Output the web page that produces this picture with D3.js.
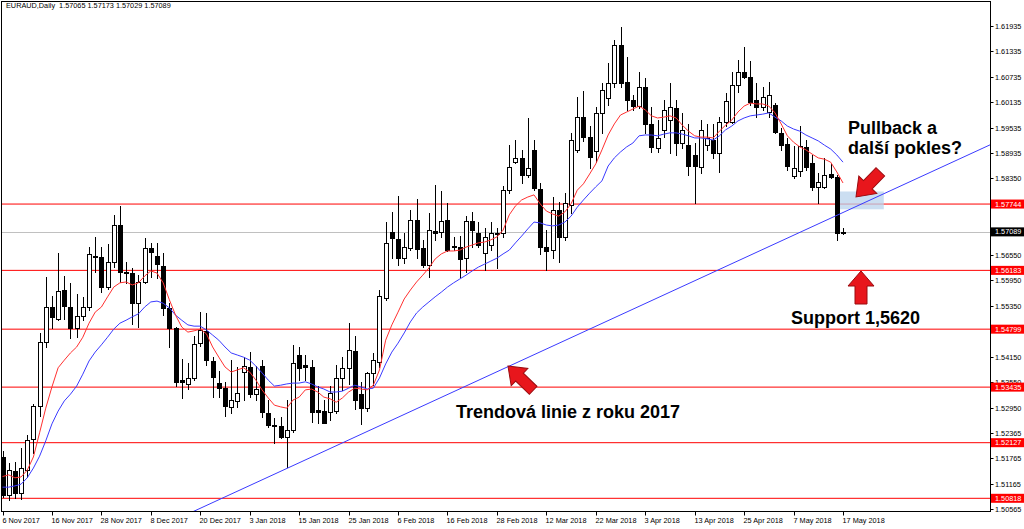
<!DOCTYPE html>
<html><head><meta charset="utf-8">
<script src="https://cdn.jsdelivr.net/npm/d3@7"></script>
<style>html,body{margin:0;padding:0;background:#fff;overflow:hidden}svg{display:block}</style>
</head><body>
<svg id="chart" width="1024" height="529"></svg>
<script>
// ---------- DATA ----------
const symbolTitle = "EURAUD,Daily  1.57065 1.57173 1.57029 1.57089";
const dateLabels = ["6 Nov 2017","16 Nov 2017","28 Nov 2017","8 Dec 2017","20 Dec 2017","3 Jan 2018","15 Jan 2018","25 Jan 2018","6 Feb 2018","16 Feb 2018","28 Feb 2018","12 Mar 2018","22 Mar 2018","3 Apr 2018","13 Apr 2018","25 Apr 2018","7 May 2018","17 May 2018"];
const dateLabelBars = [0,8,16,24,32,40,48,56,64,72,80,88,96,104,112,120,128,136];

const openV = [
1.5180,1.5090,1.5147,1.5094,1.5148,1.5221,1.5299,1.5450,1.5533,1.5504,
1.5572,1.5533,1.5483,1.5512,1.5533,1.5652,1.5649,1.5580,1.5637,1.5725,
1.5615,1.5613,1.5541,1.5592,1.5670,1.5652,1.5629,1.5529,1.5482,1.5360,
1.5352,1.5364,1.5447,1.5476,1.5406,1.5354,1.5341,1.5296,1.5311,1.5380,
1.5392,1.5327,1.5394,1.5282,1.5254,1.5252,1.5227,1.5242,1.5419,1.5396,
1.5392,1.5290,1.5288,1.5286,1.5288,1.5364,1.5388,1.5429,1.5327,1.5294,
1.5376,1.5403,1.5553,1.5708,1.5692,1.5647,1.5672,1.5738,1.5670,1.5631,
1.5711,1.5709,1.5738,1.5675,1.5674,1.5647,1.5735,1.5706,1.5659,1.5678,
1.5704,1.5706,1.5808,1.5874,1.5882,1.5843,1.5902,1.5809,1.5674,1.5666,
1.5760,1.5698,1.5772,1.5902,1.5980,1.5933,1.5900,1.5988,1.6023,1.6059,
1.6149,1.6062,1.6019,1.6005,1.6051,1.5964,1.5906,1.5949,1.5972,1.6000,
1.5918,1.5913,1.5890,1.5862,1.5913,1.5925,1.5894,1.5968,1.5968,1.6055,
1.6085,1.6074,1.6019,1.6004,1.5992,1.6008,1.5941,1.5916,1.5840,1.5852,
1.5909,1.5870,1.5815,1.5815,1.5845,1.5839,1.57065];
const highV = [
1.5192,1.5165,1.5168,1.5200,1.5231,1.5304,1.5472,1.5603,1.5558,1.5659,
1.5605,1.5589,1.5562,1.5556,1.5674,1.5698,1.5674,1.5680,1.5749,1.5770,
1.5639,1.5624,1.5607,1.5694,1.5683,1.5682,1.5659,1.5542,1.5486,1.5409,
1.5400,1.5464,1.5520,1.5519,1.5415,1.5382,1.5356,1.5407,1.5392,1.5414,
1.5427,1.5394,1.5407,1.5313,1.5270,1.5274,1.5313,1.5443,1.5439,1.5419,
1.5407,1.5345,1.5313,1.5345,1.5396,1.5415,1.5494,1.5464,1.5356,1.5378,
1.5423,1.5572,1.5733,1.5756,1.5794,1.5706,1.5760,1.5786,1.5690,1.5753,
1.5819,1.5804,1.5776,1.5698,1.5699,1.5746,1.5756,1.5731,1.5717,1.5733,
1.5718,1.5817,1.5914,1.5925,1.5902,1.5977,1.5925,1.5824,1.5713,1.5792,
1.5780,1.5800,1.5941,1.6027,1.6041,1.5958,1.6003,1.6059,1.6106,1.6161,
1.6192,1.6121,1.6031,1.6086,1.6070,1.6004,1.5972,1.6019,1.6059,1.6019,
1.5988,1.5964,1.5917,1.5972,1.5964,1.5964,1.5980,1.6035,1.6086,1.6113,
1.6145,1.6110,1.6059,1.6051,1.6062,1.6012,1.5953,1.5929,1.5911,1.5958,
1.5925,1.5890,1.5847,1.5882,1.5869,1.5843,1.57173];
const lowV = [
1.5086,1.5078,1.5083,1.5080,1.5132,1.5188,1.5276,1.5439,1.5483,1.5502,
1.5503,1.5459,1.5462,1.5502,1.5525,1.5615,1.5568,1.5575,1.5627,1.5592,
1.5588,1.5492,1.5486,1.5588,1.5603,1.5600,1.5513,1.5439,1.5345,1.5317,
1.5338,1.5360,1.5440,1.5396,1.5321,1.5321,1.5276,1.5282,1.5297,1.5313,
1.5321,1.5313,1.5274,1.5250,1.5213,1.5223,1.5155,1.5238,1.5360,1.5360,
1.5262,1.5260,1.5258,1.5266,1.5282,1.5337,1.5352,1.5291,1.5257,1.5288,
1.5349,1.5392,1.5549,1.5648,1.5631,1.5635,1.5666,1.5647,1.5627,1.5603,
1.5690,1.5696,1.5665,1.5666,1.5603,1.5615,1.5674,1.5674,1.5619,1.5666,
1.5624,1.5698,1.5800,1.5871,1.5824,1.5839,1.5808,1.5658,1.5619,1.5647,
1.5639,1.5690,1.5753,1.5898,1.5922,1.5859,1.5874,1.5941,1.6008,1.6051,
1.6051,1.5996,1.5996,1.6000,1.5941,1.5898,1.5898,1.5933,1.5894,1.5890,
1.5906,1.5843,1.5776,1.5847,1.5902,1.5883,1.5851,1.5957,1.5965,1.6039,
1.6070,1.6008,1.5980,1.5996,1.5980,1.5941,1.5902,1.5855,1.5836,1.5840,
1.5855,1.5808,1.5776,1.5812,1.5836,1.5690,1.57029];
const closeV = [
1.5090,1.5148,1.5095,1.5153,1.5219,1.5299,1.5450,1.5533,1.5508,1.5570,
1.5535,1.5483,1.5512,1.5533,1.5656,1.5649,1.5580,1.5637,1.5725,1.5615,
1.5611,1.5541,1.5592,1.5670,1.5662,1.5633,1.5530,1.5482,1.5356,1.5356,
1.5364,1.5444,1.5478,1.5407,1.5368,1.5341,1.5299,1.5313,1.5329,1.5394,
1.5327,1.5339,1.5286,1.5254,1.5252,1.5227,1.5242,1.5400,1.5388,1.5392,
1.5286,1.5284,1.5260,1.5330,1.5364,1.5388,1.5431,1.5313,1.5294,1.5376,
1.5407,1.5558,1.5683,1.5694,1.5648,1.5673,1.5738,1.5668,1.5631,1.5713,
1.5706,1.5735,1.5666,1.5673,1.5644,1.5735,1.5713,1.5678,1.5698,1.5706,
1.5707,1.5808,1.5862,1.5882,1.5843,1.5859,1.5812,1.5673,1.5665,1.5760,
1.5696,1.5776,1.5924,1.5980,1.5933,1.5886,1.5989,1.6043,1.6059,1.6149,
1.6060,1.6019,1.6005,1.6051,1.5964,1.5909,1.5929,1.5996,1.6002,1.5918,
1.5949,1.5864,1.5864,1.5949,1.5930,1.5894,1.5968,1.6018,1.6055,1.6086,
1.6074,1.6015,1.6004,1.6027,1.6031,1.5945,1.5913,1.5864,1.5859,1.5911,
1.5862,1.5814,1.5827,1.5843,1.5839,1.5706,1.57089];

// fast (red) and slow (blue) moving averages
const maFast = [
1.5133,1.5137,1.5130,1.5132,1.5148,1.5179,1.5236,1.5294,1.5344,1.5389,
1.5407,1.5424,1.5438,1.5461,1.5494,1.5520,1.5532,1.5556,1.5579,1.5589,
1.5591,1.5584,1.5589,1.5605,1.5617,1.5612,1.5589,1.5549,1.5513,1.5485,
1.5473,1.5476,1.5480,1.5469,1.5438,1.5414,1.5391,1.5379,1.5384,1.5389,
1.5379,1.5360,1.5337,1.5318,1.5301,1.5297,1.5294,1.5313,1.5320,1.5337,
1.5339,1.5332,1.5320,1.5316,1.5308,1.5318,1.5332,1.5341,1.5339,1.5337,
1.5348,1.5384,1.5454,1.5490,1.5520,1.5551,1.5572,1.5591,1.5607,1.5624,
1.5645,1.5657,1.5664,1.5664,1.5666,1.5673,1.5678,1.5683,1.5685,1.5690,
1.5697,1.5713,1.5749,1.5770,1.5784,1.5791,1.5796,1.5775,1.5758,1.5751,
1.5746,1.5756,1.5775,1.5807,1.5822,1.5845,1.5869,1.5902,1.5937,1.5963,
1.5984,1.5991,1.5998,1.6005,1.5996,1.5982,1.5977,1.5979,1.5982,1.5977,
1.5960,1.5946,1.5935,1.5932,1.5932,1.5930,1.5946,1.5960,1.5972,1.5991,
1.6005,1.6012,1.6010,1.6010,1.6005,1.5989,1.5963,1.5935,1.5920,1.5909,
1.5902,1.5892,1.5883,1.5880,1.5873,1.5850,1.5824];
const maSlow = [
1.5108,1.5108,1.5111,1.5115,1.5130,1.5153,1.5181,1.5217,1.5257,1.5287,
1.5311,1.5327,1.5346,1.5374,1.5405,1.5426,1.5443,1.5461,1.5480,1.5494,
1.5501,1.5509,1.5516,1.5532,1.5544,1.5546,1.5541,1.5530,1.5513,1.5501,
1.5490,1.5487,1.5487,1.5478,1.5466,1.5454,1.5438,1.5424,1.5419,1.5414,
1.5407,1.5393,1.5377,1.5360,1.5346,1.5348,1.5351,1.5353,1.5353,1.5356,
1.5351,1.5344,1.5339,1.5332,1.5332,1.5334,1.5341,1.5348,1.5344,1.5339,
1.5341,1.5365,1.5398,1.5426,1.5447,1.5471,1.5497,1.5518,1.5532,1.5544,
1.5556,1.5567,1.5579,1.5589,1.5598,1.5607,1.5617,1.5626,1.5633,1.5640,
1.5647,1.5657,1.5666,1.5683,1.5699,1.5716,1.5732,1.5730,1.5725,1.5723,
1.5725,1.5732,1.5746,1.5767,1.5784,1.5800,1.5815,1.5829,1.5864,1.5883,
1.5897,1.5909,1.5918,1.5935,1.5937,1.5937,1.5935,1.5939,1.5942,1.5942,
1.5939,1.5935,1.5930,1.5930,1.5928,1.5925,1.5935,1.5949,1.5958,1.5970,
1.5977,1.5982,1.5984,1.5986,1.5989,1.5979,1.5970,1.5958,1.5951,1.5946,
1.5937,1.5930,1.5923,1.5913,1.5904,1.5890,1.5873];

const levelPrices = [1.57744, 1.56183, 1.54799, 1.53435, 1.52127, 1.50818];
const lastPrice = 1.57089;
const axisPrices = [1.61935,1.61335,1.60735,1.60135,1.59535,1.58935,1.58350,1.56550,1.55950,1.55350,1.54150,1.53550,1.52950,1.52365,1.51765,1.51165,1.50565];
const trendBars = [32, 136];
const trendPrices = [1.50583, 1.57545];
const zoneBars = [135.5, 142.6];
const zonePrices = [1.5762, 1.5804];

// ---------- LAYOUT ----------
const W = 1024, H = 529;
const P = {left: 1.5, top: 1.5, right: 990.5, bottom: 511.5};
const x = d3.scaleLinear().domain([0, 136]).range([2.5, 843]);
const y = d3.scaleLinear().domain([1.50818, 1.61935]).range([498.3, 26]);
const smallFont = "'Liberation Sans', Arial, sans-serif";

const svg = d3.select("#chart");
svg.append("rect").attr("width", W).attr("height", H).attr("fill", "#fff");
svg.append("defs").append("clipPath").attr("id", "plotclip")
  .append("rect").attr("x", P.left).attr("y", P.top)
  .attr("width", P.right - P.left).attr("height", P.bottom - P.top);
const g = svg.append("g").attr("clip-path", "url(#plotclip)");

// horizontal level lines
g.selectAll("line.level").data(levelPrices).join("line")
  .attr("x1", P.left).attr("x2", P.right)
  .attr("y1", d => y(d)).attr("y2", d => y(d))
  .attr("stroke", "#ff0000").attr("stroke-width", 1);
g.append("line").attr("x1", P.left).attr("x2", P.right)
  .attr("y1", Math.round(y(lastPrice)) + 0.5).attr("y2", Math.round(y(lastPrice)) + 0.5)
  .attr("stroke", "#c0c0c0").attr("stroke-width", 1);

// highlighted zone
g.append("rect")
  .attr("x", x(zoneBars[0])).attr("width", x(zoneBars[1]) - x(zoneBars[0]))
  .attr("y", y(zonePrices[1])).attr("height", y(zonePrices[0]) - y(zonePrices[1]))
  .attr("fill", "#b9d3ec").attr("fill-opacity", 0.75);

// candles
const bars = d3.range(openV.length).map(i => ({i, o: openV[i], h: highV[i], l: lowV[i], c: closeV[i]}));
const cx = i => Math.round(x(i)) + 0.5;
const cg = g.append("g");
bars.forEach(b => {
  const X = cx(b.i);
  cg.append("line").attr("x1", X).attr("x2", X)
    .attr("y1", Math.round(y(b.h))).attr("y2", Math.round(y(b.l)) + 1)
    .attr("stroke", "#000").attr("stroke-width", 1);
  const top = Math.round(y(Math.max(b.o, b.c))) + 0.5;
  const bot = Math.round(y(Math.min(b.o, b.c))) + 0.5;
  if (bot - top < 1) {
    cg.append("line").attr("x1", X - 2).attr("x2", X + 2).attr("y1", top).attr("y2", top)
      .attr("stroke", "#000");
  } else {
    cg.append("rect").attr("x", X - 2).attr("width", 4).attr("y", top).attr("height", bot - top)
      .attr("fill", b.c >= b.o ? "#fff" : "#000").attr("stroke", "#000").attr("stroke-width", 1);
  }
});

// moving averages
const maLine = d3.line().x((d, i) => x(i)).y(d => y(d));
g.append("path").datum(maSlow).attr("d", maLine).attr("fill", "none").attr("stroke", "#3a3aff").attr("stroke-width", 1);
g.append("path").datum(maFast).attr("d", maLine).attr("fill", "none").attr("stroke", "#ff3030").attr("stroke-width", 1);

// trend line (extended through the plot)
const slope = (trendPrices[1] - trendPrices[0]) / (trendBars[1] - trendBars[0]);
const tA = 0, tB = 170;
g.append("line")
  .attr("x1", x(tA)).attr("y1", y(trendPrices[0] + slope * (tA - trendBars[0])))
  .attr("x2", x(tB)).attr("y2", y(trendPrices[0] + slope * (tB - trendBars[0])))
  .attr("stroke", "#3a3aff").attr("stroke-width", 1);

// arrows
function arrow(tx, ty, angle, len, headLen, headW, shaftW) {
  const pts = [[0,0],[headLen,-headW/2],[headLen,-shaftW/2],[len,-shaftW/2],[len,shaftW/2],[headLen,shaftW/2],[headLen,headW/2]];
  svg.append("path").attr("d", "M" + pts.map(p => p.join(",")).join("L") + "Z")
    .attr("transform", `translate(${tx},${ty}) rotate(${angle})`)
    .attr("fill", "#e8161c").attr("stroke", "#9a0a0e").attr("stroke-width", 1).attr("stroke-linejoin", "miter");
}
arrow(856, 197, -46, 35, 17, 25, 12);
arrow(861, 271, 90, 33, 15, 26, 12);
arrow(508, 366, 44, 35, 16, 24, 11);

// frame
svg.append("rect").attr("x", P.left).attr("y", P.top)
  .attr("width", P.right - P.left).attr("height", P.bottom - P.top)
  .attr("fill", "none").attr("stroke", "#000").attr("stroke-width", 1);

// right price axis
const ax = svg.append("g").attr("font-family", smallFont).attr("font-size", 7.3);
axisPrices.forEach(p => {
  const Y = Math.round(y(p)) + 0.5;
  ax.append("line").attr("x1", P.right).attr("x2", P.right + 3).attr("y1", Y).attr("y2", Y).attr("stroke", "#000");
  ax.append("text").attr("x", 995).attr("y", Y + 2.6).attr("fill", "#000").text(p.toFixed(5));
});
levelPrices.forEach(p => {
  const Y = y(p);
  ax.append("rect").attr("x", P.right + 0.5).attr("y", Y - 4.5).attr("width", W - P.right).attr("height", 9).attr("fill", "#ff0000");
  ax.append("text").attr("x", 995).attr("y", Y + 2.6).attr("fill", "#fff").text(p.toFixed(5));
});
{
  const Y = y(lastPrice);
  ax.append("rect").attr("x", P.right + 0.5).attr("y", Y - 4.5).attr("width", W - P.right).attr("height", 9).attr("fill", "#000");
  ax.append("text").attr("x", 995).attr("y", Y + 2.6).attr("fill", "#fff").text(lastPrice.toFixed(5));
}

// bottom date axis
dateLabelBars.forEach((b, k) => {
  const X = cx(b);
  ax.append("line").attr("x1", X).attr("x2", X).attr("y1", P.bottom).attr("y2", P.bottom + 4).attr("stroke", "#000");
  ax.append("text").attr("x", X - 1).attr("y", 522.6).attr("fill", "#000").text(dateLabels[k]);
});

// title
ax.append("text").attr("x", 6).attr("y", 8.2).attr("fill", "#000").style("white-space", "pre").text(symbolTitle);

// annotations
const an = svg.append("g").attr("font-family", "'Liberation Sans', Arial, sans-serif")
  .attr("font-weight", "bold").attr("font-size", 18).attr("fill", "#000");
an.append("text").attr("x", 848).attr("y", 134).text("Pullback a");
an.append("text").attr("x", 848).attr("y", 154).text("další pokles?");
an.append("text").attr("x", 791).attr("y", 324).text("Support 1,5620");
an.append("text").attr("x", 456).attr("y", 418).text("Trendová linie z roku 2017");
</script>
</body></html>
